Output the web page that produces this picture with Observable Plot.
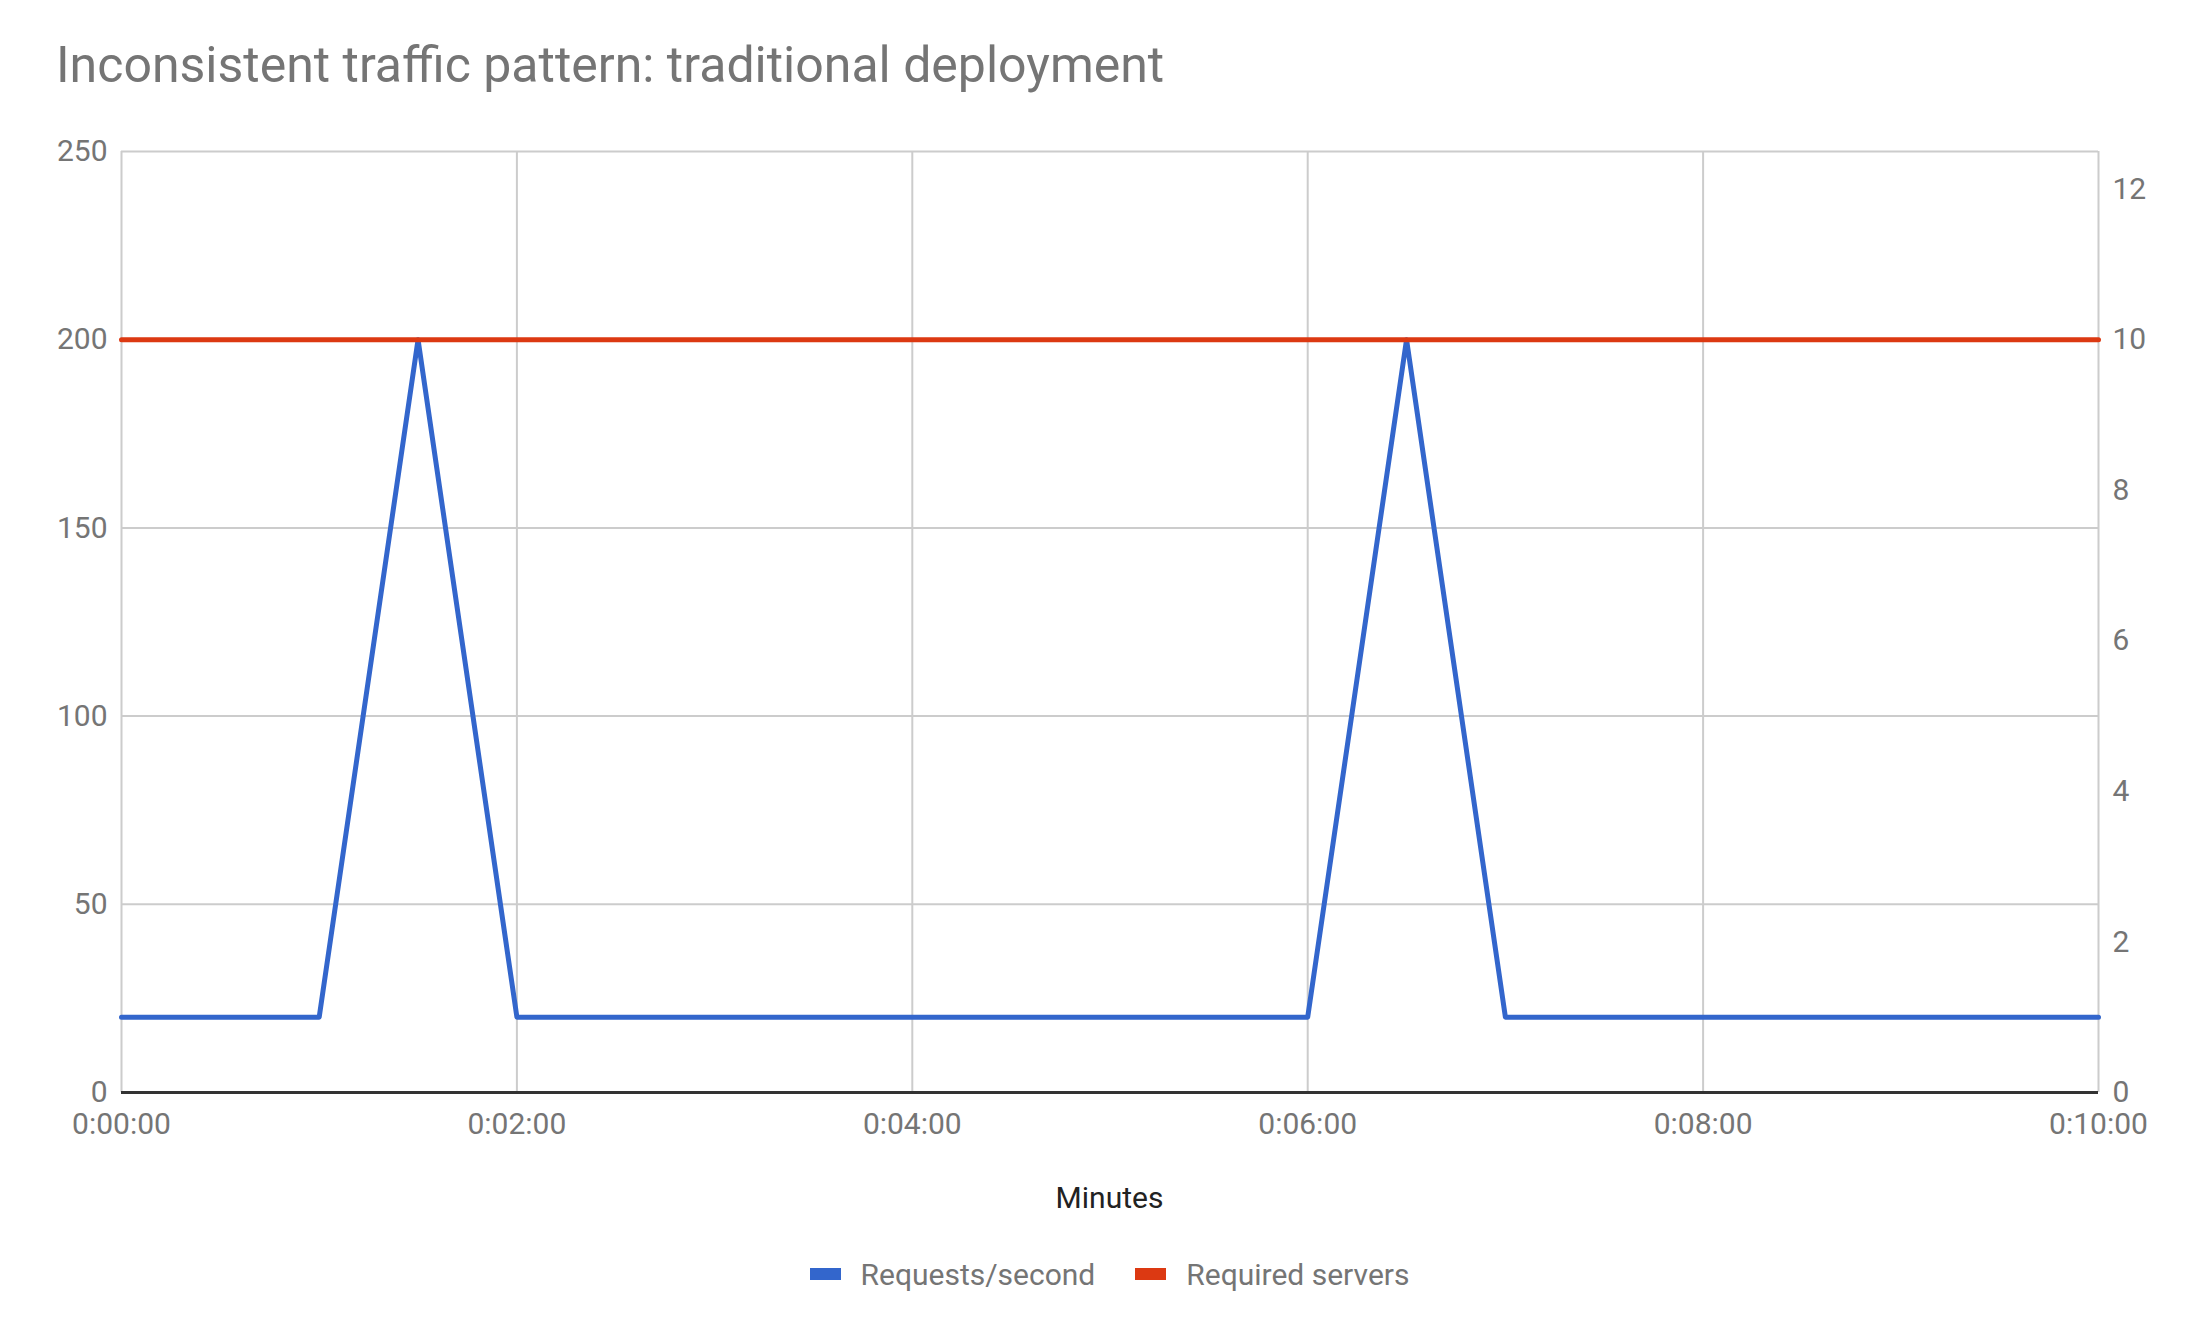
<!DOCTYPE html>
<html><head><meta charset="utf-8">
<script src="https://cdn.jsdelivr.net/npm/d3@7"></script>
<script src="https://cdn.jsdelivr.net/npm/@observablehq/plot@0.6"></script>
<style>
body{margin:0;background:#fff;font-family:Roboto,sans-serif;width:2212px;height:1334px;position:relative;overflow:hidden}
#title{position:absolute;left:56px;top:40px;font-size:50px;line-height:1;color:#757575;white-space:nowrap}
#chart{position:absolute;left:0;top:100px}
#xlabel{position:absolute;left:121px;width:1977px;top:1178px;text-align:center;font-size:30px;line-height:40px;color:#222}
#legend{position:absolute;left:121px;width:1977px;top:1254px;height:40px;display:flex;justify-content:center;align-items:center;font-size:30px;color:#757575}
.item{display:flex;align-items:center;margin:0 20px}
.sw{width:31px;height:12px;margin-right:20px}
</style>
</head><body>
<div id="title">Inconsistent traffic pattern: traditional deployment</div>
<div id="chart"></div>
<div id="xlabel">Minutes</div>
<div id="legend"></div>
<script>
// Data
const seconds = [0,30,60,90,120,150,180,210,240,270,300,330,360,390,420,450,480,510,540,570,600];
const requests = [20,20,20,200,20,20,20,20,20,20,20,20,20,200,20,20,20,20,20,20,20];
const servers = [10,10,10,10,10,10,10,10,10,10,10,10,10,10,10,10,10,10,10,10,10];
const seriesNames = ["Requests/second","Required servers"];
const seriesColors = ["#3366cc","#dc3912"];
const xTicks = [0,120,240,360,480,600];
const xTickLabels = ["0:00:00","0:02:00","0:04:00","0:06:00","0:08:00","0:10:00"];
const leftTicks = [0,50,100,150,200,250];
const rightTicks = [0,2,4,6,8,10,12];
const leftMax = 250;
const rightMax = 12.5;

const k = leftMax / rightMax;
const data = seconds.map((t,i) => ({t, req: requests[i], srv: servers[i]}));

const chart = Plot.plot({
  width: 2212,
  height: 1140,
  marginTop: 51,
  marginBottom: 148,
  marginLeft: 121,
  marginRight: 114,
  style: {fontFamily: "Roboto, sans-serif", fontSize: "30px", color: "#757575", background: "#fff"},
  x: {domain: [0, 600], label: null},
  y: {domain: [0, leftMax], label: null},
  marks: [
    Plot.gridX(xTicks, {stroke: "#cccccc", strokeOpacity: 1, strokeWidth: 2}),
    Plot.gridY(leftTicks.filter(d => d > 0), {stroke: "#cccccc", strokeOpacity: 1, strokeWidth: 2}),
    Plot.ruleY([0], {stroke: "#333", strokeWidth: 3}),
    Plot.line(data, {x: "t", y: "req", stroke: seriesColors[0], strokeWidth: 5}),
    Plot.line(data, {x: "t", y: d => d.srv * k, stroke: seriesColors[1], strokeWidth: 5}),
    Plot.axisX(xTicks, {tickSize: 0, tickPadding: 20, fontSize: 30, tickFormat: d => xTickLabels[xTicks.indexOf(d)], label: null}),
    Plot.axisY(leftTicks, {anchor: "left", tickSize: 0, tickPadding: 14, fontSize: 30, label: null}),
    Plot.axisY(rightTicks.map(d => d * k), {anchor: "right", tickSize: 0, tickPadding: 14, fontSize: 30, tickFormat: d => String(Math.round(d / k)), label: null})
  ]
});
document.getElementById("chart").appendChild(chart);

const legend = document.getElementById("legend");
seriesNames.forEach((n, i) => {
  const it = document.createElement("div");
  it.className = "item";
  const sw = document.createElement("div");
  sw.className = "sw";
  sw.style.background = seriesColors[i];
  const tx = document.createElement("span");
  tx.textContent = n;
  it.appendChild(sw); it.appendChild(tx);
  legend.appendChild(it);
});
</script>
</body></html>
